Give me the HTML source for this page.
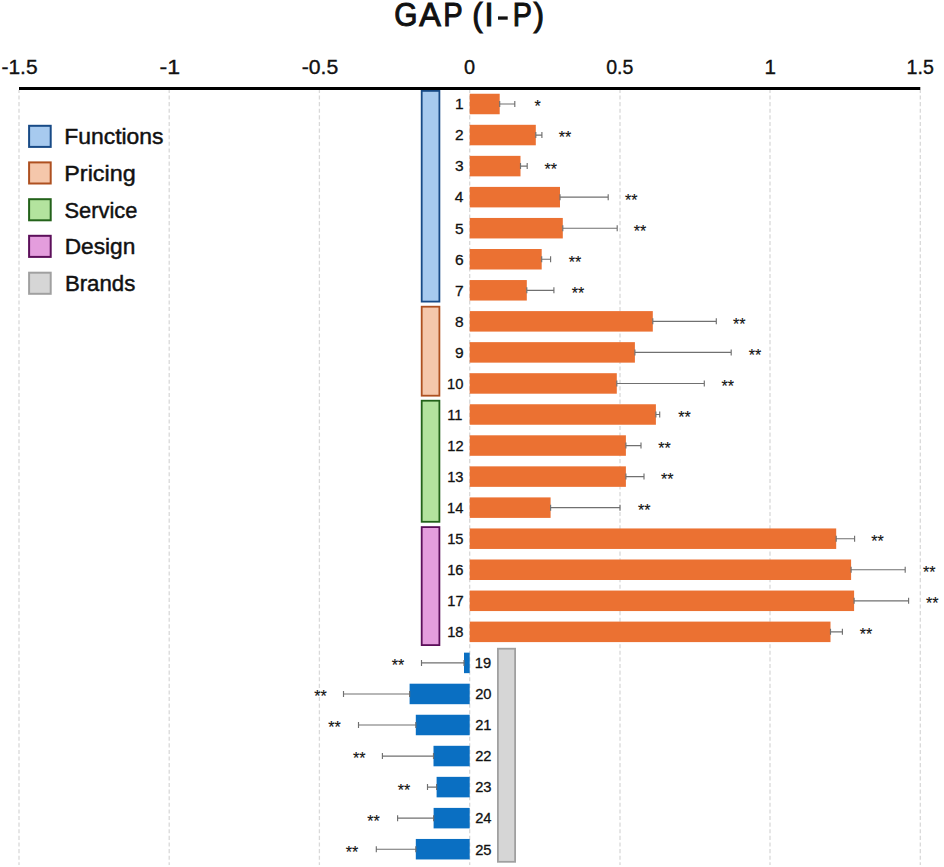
<!DOCTYPE html><html><head><meta charset="utf-8"><title>GAP (I-P)</title><style>html,body{margin:0;padding:0;background:#fff;overflow:hidden;}svg{display:block;}text{font-family:"Liberation Sans",sans-serif;}</style></head><body>
<svg width="944" height="867" viewBox="0 0 944 867">
<line x1="19" y1="90" x2="19" y2="865" stroke="#d9d9d9" stroke-width="1.3" stroke-dasharray="4.1 2.51" stroke-dashoffset="1.11"/>
<line x1="169.2" y1="90" x2="169.2" y2="865" stroke="#d9d9d9" stroke-width="1.3" stroke-dasharray="4.1 2.51" stroke-dashoffset="1.11"/>
<line x1="319.4" y1="90" x2="319.4" y2="865" stroke="#d9d9d9" stroke-width="1.3" stroke-dasharray="4.1 2.51" stroke-dashoffset="1.11"/>
<line x1="469.7" y1="90" x2="469.7" y2="865" stroke="#d9d9d9" stroke-width="1.3" stroke-dasharray="4.1 2.51" stroke-dashoffset="1.11"/>
<line x1="620" y1="90" x2="620" y2="865" stroke="#d9d9d9" stroke-width="1.3" stroke-dasharray="4.1 2.51" stroke-dashoffset="1.11"/>
<line x1="770" y1="90" x2="770" y2="865" stroke="#d9d9d9" stroke-width="1.3" stroke-dasharray="4.1 2.51" stroke-dashoffset="1.11"/>
<line x1="920.3" y1="90" x2="920.3" y2="865" stroke="#d9d9d9" stroke-width="1.3" stroke-dasharray="4.1 2.51" stroke-dashoffset="1.11"/>
<g>
<text transform="translate(394.30 26.20) scale(0.8811 1)" font-size="33.9" fill="#111" stroke="#111" stroke-width="1.05">G</text>
<text transform="translate(419.24 26.20) scale(0.9565 1)" font-size="33.9" fill="#111" stroke="#111" stroke-width="1.05">A</text>
<text transform="translate(443.21 26.20) scale(0.8591 1)" font-size="33.9" fill="#111" stroke="#111" stroke-width="1.05">P</text>
<text transform="translate(472.36 26.10) scale(0.9429 1)" font-size="33.2" fill="#111" stroke="#111" stroke-width="1.05">(</text>
<text transform="translate(484.13 26.20) scale(1.0122 1)" font-size="33.9" fill="#111" stroke="#111" stroke-width="1.05">I</text>
<text transform="translate(512.84 26.20) scale(0.8480 1)" font-size="33.9" fill="#111" stroke="#111" stroke-width="1.05">P</text>
<text transform="translate(533.41 26.10) scale(0.9543 1)" font-size="33.2" fill="#111" stroke="#111" stroke-width="1.05">)</text>
<rect x="498" y="16.4" width="9.7" height="3.3" fill="#111"/>
</g>
<g stroke="#111" stroke-width="0.35">
<text transform="translate(1.47 73.70) scale(1.0223 1)" font-size="20.5" fill="#111">-1.5</text>
<text transform="translate(159.57 73.70) scale(1.1277 1)" font-size="20.5" fill="#111">-1</text>
<text transform="translate(301.76 73.70) scale(1.0342 1)" font-size="20.5" fill="#111">-0.5</text>
<text transform="translate(464.07 73.70) scale(0.9745 1)" font-size="20.5" fill="#111">0</text>
<text transform="translate(606.24 73.70) scale(0.9539 1)" font-size="20.5" fill="#111">0.5</text>
<text transform="translate(764.43 73.70) scale(1.0069 1)" font-size="20.5" fill="#111">1</text>
<text transform="translate(906.50 73.70) scale(0.9588 1)" font-size="20.5" fill="#111">1.5</text>
</g>
<rect x="19" y="87" width="901.3" height="3" fill="#000"/>
<g><rect x="469.7" y="93.75" width="30.00" height="20.5" fill="#EB7132"/><rect x="469.7" y="124.80" width="66.10" height="20.5" fill="#EB7132"/><rect x="469.7" y="155.85" width="50.80" height="20.5" fill="#EB7132"/><rect x="469.7" y="186.90" width="90.30" height="20.5" fill="#EB7132"/><rect x="469.7" y="217.95" width="93.10" height="20.5" fill="#EB7132"/><rect x="469.7" y="249.00" width="72.00" height="20.5" fill="#EB7132"/><rect x="469.7" y="280.05" width="57.10" height="20.5" fill="#EB7132"/><rect x="469.7" y="311.10" width="183.10" height="20.5" fill="#EB7132"/><rect x="469.7" y="342.15" width="165.20" height="20.5" fill="#EB7132"/><rect x="469.7" y="373.20" width="147.10" height="20.5" fill="#EB7132"/><rect x="469.7" y="404.25" width="186.20" height="20.5" fill="#EB7132"/><rect x="469.7" y="435.30" width="156.20" height="20.5" fill="#EB7132"/><rect x="469.7" y="466.35" width="156.20" height="20.5" fill="#EB7132"/><rect x="469.7" y="497.40" width="80.90" height="20.5" fill="#EB7132"/><rect x="469.7" y="528.45" width="366.50" height="20.5" fill="#EB7132"/><rect x="469.7" y="559.50" width="381.40" height="20.5" fill="#EB7132"/><rect x="469.7" y="590.55" width="384.40" height="20.5" fill="#EB7132"/><rect x="469.7" y="621.60" width="360.80" height="20.5" fill="#EB7132"/><rect x="464.00" y="652.65" width="5.70" height="20.5" fill="#0A6FC2"/><rect x="409.60" y="683.70" width="60.10" height="20.5" fill="#0A6FC2"/><rect x="415.80" y="714.75" width="53.90" height="20.5" fill="#0A6FC2"/><rect x="433.50" y="745.80" width="36.20" height="20.5" fill="#0A6FC2"/><rect x="436.60" y="776.85" width="33.10" height="20.5" fill="#0A6FC2"/><rect x="433.60" y="807.90" width="36.10" height="20.5" fill="#0A6FC2"/><rect x="415.80" y="838.95" width="53.90" height="20.5" fill="#0A6FC2"/></g>
<path d="M499.70 104.00H514.80M514.80 101.00V107.00M499.70 101.00V107.00M535.80 135.05H541.90M541.90 132.05V138.05M535.80 132.05V138.05M520.50 166.10H527.20M527.20 163.10V169.10M520.50 163.10V169.10M560.00 197.15H608.20M608.20 194.15V200.15M560.00 194.15V200.15M562.80 228.20H617.20M617.20 225.20V231.20M562.80 225.20V231.20M541.70 259.25H550.60M550.60 256.25V262.25M541.70 256.25V262.25M526.80 290.30H553.90M553.90 287.30V293.30M526.80 287.30V293.30M652.80 321.35H716.30M716.30 318.35V324.35M652.80 318.35V324.35M634.90 352.40H731.20M731.20 349.40V355.40M634.90 349.40V355.40M616.80 383.45H704.30M704.30 380.45V386.45M616.80 380.45V386.45M655.90 414.50H659.70M659.70 411.50V417.50M655.90 411.50V417.50M625.90 445.55H641.00M641.00 442.55V448.55M625.90 442.55V448.55M625.90 476.60H644.00M644.00 473.60V479.60M625.90 473.60V479.60M550.60 507.65H620.00M620.00 504.65V510.65M550.60 504.65V510.65M836.20 538.70H854.60M854.60 535.70V541.70M836.20 535.70V541.70M851.10 569.75H905.20M905.20 566.75V572.75M851.10 566.75V572.75M854.10 600.80H908.60M908.60 597.80V603.80M854.10 597.80V603.80M830.50 631.85H842.40M842.40 628.85V634.85M830.50 628.85V634.85M464.00 662.90H421.50M421.50 659.90V665.90M464.00 659.90V665.90M409.60 693.95H343.50M343.50 690.95V696.95M409.60 690.95V696.95M415.80 725.00H358.50M358.50 722.00V728.00M415.80 722.00V728.00M433.50 756.05H382.40M382.40 753.05V759.05M433.50 753.05V759.05M436.60 787.10H427.50M427.50 784.10V790.10M436.60 784.10V790.10M433.60 818.15H397.60M397.60 815.15V821.15M433.60 815.15V821.15M415.80 849.20H376.30M376.30 846.20V852.20M415.80 846.20V852.20" stroke="#707070" stroke-width="1.15" fill="none"/>
<g stroke="#111" stroke-width="0.15"><text transform="translate(534.53 112.40) scale(1.0000 1)" font-size="16" fill="#111">*</text>
<text transform="translate(558.77 143.45) scale(1.0000 1)" font-size="16" fill="#111">**</text>
<text transform="translate(544.47 174.50) scale(1.0000 1)" font-size="16" fill="#111">**</text>
<text transform="translate(625.07 205.55) scale(1.0000 1)" font-size="16" fill="#111">**</text>
<text transform="translate(633.77 236.60) scale(1.0000 1)" font-size="16" fill="#111">**</text>
<text transform="translate(568.87 267.65) scale(1.0000 1)" font-size="16" fill="#111">**</text>
<text transform="translate(571.77 298.70) scale(1.0000 1)" font-size="16" fill="#111">**</text>
<text transform="translate(732.97 329.75) scale(1.0000 1)" font-size="16" fill="#111">**</text>
<text transform="translate(748.67 360.80) scale(1.0000 1)" font-size="16" fill="#111">**</text>
<text transform="translate(721.47 391.85) scale(1.0000 1)" font-size="16" fill="#111">**</text>
<text transform="translate(678.37 422.90) scale(1.0000 1)" font-size="16" fill="#111">**</text>
<text transform="translate(658.27 453.95) scale(1.0000 1)" font-size="16" fill="#111">**</text>
<text transform="translate(661.07 485.00) scale(1.0000 1)" font-size="16" fill="#111">**</text>
<text transform="translate(638.07 516.05) scale(1.0000 1)" font-size="16" fill="#111">**</text>
<text transform="translate(871.27 547.10) scale(1.0000 1)" font-size="16" fill="#111">**</text>
<text transform="translate(923.07 578.15) scale(1.0000 1)" font-size="16" fill="#111">**</text>
<text transform="translate(925.92 609.20) scale(1.0000 1)" font-size="16" fill="#111">**</text>
<text transform="translate(859.67 640.25) scale(1.0000 1)" font-size="16" fill="#111">**</text>
<text transform="translate(391.87 671.30) scale(1.0000 1)" font-size="16" fill="#111">**</text>
<text transform="translate(314.27 702.35) scale(1.0000 1)" font-size="16" fill="#111">**</text>
<text transform="translate(328.37 733.40) scale(1.0000 1)" font-size="16" fill="#111">**</text>
<text transform="translate(352.97 764.45) scale(1.0000 1)" font-size="16" fill="#111">**</text>
<text transform="translate(397.67 795.50) scale(1.0000 1)" font-size="16" fill="#111">**</text>
<text transform="translate(367.37 826.55) scale(1.0000 1)" font-size="16" fill="#111">**</text>
<text transform="translate(345.82 857.60) scale(1.0000 1)" font-size="16" fill="#111">**</text></g>
<g stroke="#111" stroke-width="0.3"><text transform="translate(455.04 109.30) scale(1.0000 1)" font-size="15.5" fill="#111">1</text>
<text transform="translate(455.06 140.35) scale(1.0000 1)" font-size="15.5" fill="#111">2</text>
<text transform="translate(454.96 171.40) scale(1.0000 1)" font-size="15.5" fill="#111">3</text>
<text transform="translate(454.73 202.45) scale(1.0000 1)" font-size="15.5" fill="#111">4</text>
<text transform="translate(454.93 233.50) scale(1.0000 1)" font-size="15.5" fill="#111">5</text>
<text transform="translate(454.96 264.55) scale(1.0000 1)" font-size="15.5" fill="#111">6</text>
<text transform="translate(455.06 295.60) scale(1.0000 1)" font-size="15.5" fill="#111">7</text>
<text transform="translate(454.95 326.65) scale(1.0000 1)" font-size="15.5" fill="#111">8</text>
<text transform="translate(455.01 357.70) scale(1.0000 1)" font-size="15.5" fill="#111">9</text>
<text transform="translate(447.10 388.75) scale(0.9500 1)" font-size="15.5" fill="#111">10</text>
<text transform="translate(447.24 419.80) scale(0.9500 1)" font-size="15.5" fill="#111">11</text>
<text transform="translate(447.26 450.85) scale(0.9500 1)" font-size="15.5" fill="#111">12</text>
<text transform="translate(447.17 481.90) scale(0.9500 1)" font-size="15.5" fill="#111">13</text>
<text transform="translate(446.95 512.95) scale(0.9500 1)" font-size="15.5" fill="#111">14</text>
<text transform="translate(447.14 544.00) scale(0.9500 1)" font-size="15.5" fill="#111">15</text>
<text transform="translate(447.17 575.05) scale(0.9500 1)" font-size="15.5" fill="#111">16</text>
<text transform="translate(447.26 606.10) scale(0.9500 1)" font-size="15.5" fill="#111">17</text>
<text transform="translate(447.16 637.15) scale(0.9500 1)" font-size="15.5" fill="#111">18</text>
<text transform="translate(474.78 668.20) scale(0.9500 1)" font-size="15.5" fill="#111">19</text>
<text transform="translate(475.16 699.25) scale(0.9500 1)" font-size="15.5" fill="#111">20</text>
<text transform="translate(475.16 730.30) scale(0.9500 1)" font-size="15.5" fill="#111">21</text>
<text transform="translate(475.16 761.35) scale(0.9500 1)" font-size="15.5" fill="#111">22</text>
<text transform="translate(475.16 792.40) scale(0.9500 1)" font-size="15.5" fill="#111">23</text>
<text transform="translate(475.16 823.45) scale(0.9500 1)" font-size="15.5" fill="#111">24</text>
<text transform="translate(475.16 854.50) scale(0.9500 1)" font-size="15.5" fill="#111">25</text></g>
<rect x="421.70" y="90.90" width="17.70" height="210.70" fill="#A7CAEF" stroke="#184A86" stroke-width="1.8"/>
<rect x="421.70" y="306.70" width="17.70" height="89.00" fill="#F5C7AB" stroke="#AE5020" stroke-width="1.8"/>
<rect x="421.70" y="400.70" width="17.70" height="121.10" fill="#B3E39E" stroke="#23621A" stroke-width="1.8"/>
<rect x="421.70" y="527.10" width="17.70" height="118.00" fill="#E49DDD" stroke="#5C0F5A" stroke-width="1.8"/>
<rect x="497.90" y="648.70" width="17.20" height="213.10" fill="#D6D6D6" stroke="#A0A0A0" stroke-width="1.8"/>
<rect x="29.1" y="125.80" width="21.6" height="21.1" fill="#A7CAEF" stroke="#184A86" stroke-width="2"/>
<rect x="29.1" y="162.40" width="21.6" height="21.1" fill="#F5C7AB" stroke="#AE5020" stroke-width="2"/>
<rect x="29.1" y="199.20" width="21.6" height="21.1" fill="#B3E39E" stroke="#23621A" stroke-width="2"/>
<rect x="29.1" y="235.80" width="21.6" height="21.1" fill="#E49DDD" stroke="#5C0F5A" stroke-width="2"/>
<rect x="29.1" y="272.70" width="21.6" height="21.1" fill="#D6D6D6" stroke="#A0A0A0" stroke-width="2"/>
<g stroke="#111" stroke-width="0.45">
<text transform="translate(64.32 144.20) scale(1.0401 1)" font-size="22" fill="#111">Functions</text>
<text transform="translate(64.28 180.80) scale(1.0621 1)" font-size="22" fill="#111">Pricing</text>
<text transform="translate(64.51 217.70) scale(0.9932 1)" font-size="22" fill="#111">Service</text>
<text transform="translate(64.64 254.10) scale(1.0330 1)" font-size="22" fill="#111">Design</text>
<text transform="translate(64.88 290.90) scale(1.0103 1)" font-size="22" fill="#111">Brands</text>
</g>
</svg></body></html>
